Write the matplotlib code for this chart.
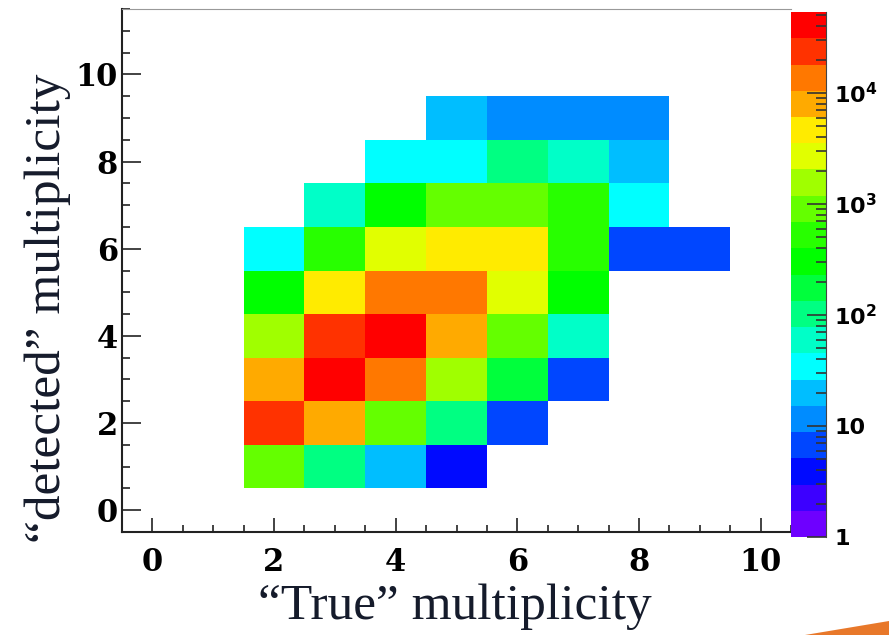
import numpy as np
import matplotlib
matplotlib.use('Agg')
import matplotlib.pyplot as plt
from matplotlib.colors import ListedColormap, LogNorm
from matplotlib.patches import Polygon

# bins of the 2D histogram: true multiplicity (x) vs detected multiplicity (y)
true_mult = [2, 3, 4, 5, 6, 7, 8, 9]
det_mult = [1, 2, 3, 4, 5, 6, 7, 8, 9]

# counts per row (detected = 1..9), columns = true 2..9, 0 = empty bin
counts_d1 = [900, 100, 20, 4, 0, 0, 0, 0]
counts_d2 = [24000, 8000, 900, 100, 7, 0, 0, 0]
counts_d3 = [8000, 40000, 14000, 1600, 180, 7, 0, 0]
counts_d4 = [1500, 24000, 42000, 8000, 900, 60, 0, 0]
counts_d5 = [300, 4600, 13000, 13500, 2700, 300, 0, 0]
counts_d6 = [34, 520, 2700, 4600, 4700, 520, 7, 7]
counts_d7 = [0, 60, 300, 900, 900, 520, 34, 0]
counts_d8 = [0, 0, 34, 34, 100, 60, 20, 0]
counts_d9 = [0, 0, 0, 20, 12, 12, 12, 0]

zmax = 10 ** 4.73

# ROOT style rainbow palette, 20 contour levels
palette = ['#6e00ff', '#3c00ff', '#000aff', '#0046ff', '#008cff',
           '#00beff', '#00ffff', '#00ffc8', '#00ff82', '#00ff3c',
           '#00ff00', '#28ff00', '#64ff00', '#a0ff00', '#e1ff00',
           '#ffeb00', '#ffaa00', '#ff7800', '#ff3200', '#ff0000']

plt.rcParams['mathtext.default'] = 'bf'

Z = np.array([counts_d1, counts_d2, counts_d3, counts_d4, counts_d5,
              counts_d6, counts_d7, counts_d8, counts_d9], dtype=float)
Z = np.ma.masked_less_equal(Z, 0)
xe = np.append(np.array(true_mult) - 0.5, true_mult[-1] + 0.5)
ye = np.append(np.array(det_mult) - 0.5, det_mult[-1] + 0.5)

W, H = 889, 635
fig = plt.figure(figsize=(W / 100, H / 100), dpi=100)
ax = fig.add_axes([122 / W, 1 - 532 / H, (791 - 122) / W, (532 - 9) / H])

cmap = ListedColormap(palette)
norm = LogNorm(vmin=1, vmax=zmax)
mesh = ax.pcolormesh(xe, ye, Z, cmap=cmap, norm=norm)

ax.set_xlim(-0.5, 10.5)
ax.set_ylim(-0.5, 11.5)
ax.set_xticks([0, 2, 4, 6, 8, 10])
ax.set_yticks([0, 2, 4, 6, 8, 10])
ax.set_xticks(np.arange(-0.5, 10.6, 0.5), minor=True)
ax.set_yticks(np.arange(-0.5, 11.6, 0.5), minor=True)
ax.tick_params(which='both', direction='in', top=False, right=False, color='#222222', width=1.2)
ax.tick_params(axis='x', which='major', length=10, pad=11)
ax.tick_params(axis='x', which='minor', length=5)
ax.tick_params(axis='y', which='major', length=14, pad=3)
ax.tick_params(axis='y', which='minor', length=6)
for lab in ax.get_xticklabels() + ax.get_yticklabels():
    lab.set_fontfamily('DejaVu Serif')
    lab.set_fontweight('bold')
    lab.set_fontsize(22)
ax.spines['left'].set_color('#222222')
ax.spines['bottom'].set_color('#222222')
ax.spines['left'].set_linewidth(1.5)
ax.spines['bottom'].set_linewidth(1.5)
ax.spines['top'].set_color('#999999')
ax.spines['right'].set_visible(False)

# palette axis
cax = fig.add_axes([791 / W, 1 - 537 / H, (826 - 791) / W, (537 - 12) / H])
cb = fig.colorbar(mesh, cax=cax)
cb.outline.set_visible(False)
cax.spines['right'].set_visible(True)
cax.spines['right'].set_color('#444444')
cb.set_ticks([1, 10, 100, 1000, 10000])
cb.set_ticklabels(['1', '10', r'10$^{2}$', r'10$^{3}$', r'10$^{4}$'])
cax.tick_params(which='both', direction='in', color='#333333', width=1.2)
cax.tick_params(which='major', length=14, pad=6)
cax.tick_params(which='minor', length=7)
for lab in cax.get_yticklabels():
    lab.set_fontfamily('DejaVu Sans')
    lab.set_fontweight('bold')
    lab.set_fontsize(16)

fig.text(455 / W, 1 - 619 / H, '\u201cTrue\u201d multiplicity', ha='center', va='baseline',
         family='Liberation Serif', fontsize=37, color='#151b2b')
fig.text(48 / W, 1 - 308 / H, '\u201cdetected\u201d multiplicity', ha='center', va='center',
         rotation=90, family='Liberation Serif', fontsize=37, color='#151b2b')

# small orange swoosh of the slide template
fig.patches.append(Polygon([[805 / W, 0], [1, 14 / H], [1, 0]], closed=True,
                           transform=fig.transFigure, facecolor='#e8782a', edgecolor='none'))

fig.savefig('out.png', dpi=100)
